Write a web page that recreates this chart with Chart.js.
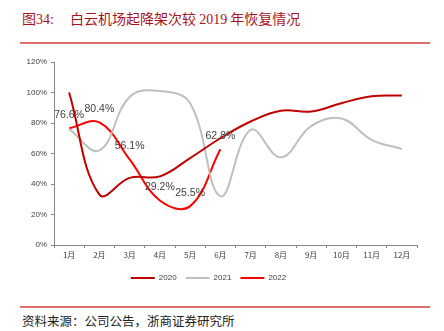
<!DOCTYPE html>
<html><head><meta charset="utf-8">
<script src="https://cdn.jsdelivr.net/npm/chart.js@4.4.0/dist/chart.umd.min.js"></script>
<style>
html,body{margin:0;padding:0;background:#fff;}
body{width:444px;height:331px;position:relative;overflow:hidden;font-family:"Noto Sans CJK SC","Liberation Sans",sans-serif;}
#title{position:absolute;left:22px;top:8px;font-size:14px;color:#A8141E;white-space:nowrap;line-height:20px;}
#title .n{font-family:"Liberation Serif","Noto Sans CJK SC",serif;}
#title .t{position:absolute;left:48px;top:0;}
#tline{position:absolute;left:20px;top:42px;width:410px;height:2px;background:#E07070;}
#bline{position:absolute;left:20px;top:306px;width:410px;height:1.5px;background:#E07070;}
#src{position:absolute;left:22px;top:313px;font-size:12.5px;color:#222;white-space:nowrap;line-height:16px;}
#wrap{position:absolute;left:0;top:50px;width:444px;height:250px;}
</style></head>
<body>
<div id="title">图<span class="n">34:</span><span class="t">白云机场起降架次较 <span class="n">2019</span> 年恢复情况</span></div>
<div id="tline"></div>
<div id="wrap"><canvas id="c" width="444" height="250"></canvas></div>
<div id="bline"></div>
<div id="src">资料来源：公司公告，浙商证券研究所</div>
<script>
const months = ["1月","2月","3月","4月","5月","6月","7月","8月","9月","10月","11月","12月"];
const seriesNames = ["2020","2021","2022"];
const v2020 = [100, 33, 44, 45, 57, 70, 81, 88, 87.5, 93, 97.5, 98];
const v2021 = [76, 62, 97, 101, 93, 32, 75.5, 57.5, 78, 83, 69, 63];
const v2022 = [76.6, 80.4, 56.1, 29.2, 25.5, 62.8];
const colors = ["#C00000", "#BFBFBF", "#FF0000"];

const labelPlugin = {
  id: 'valLabels',
  afterDatasetsDraw(chart) {
    const ctx = chart.ctx;
    const meta = chart.getDatasetMeta(2);
    ctx.save();
    ctx.font = '10.5px "Liberation Sans", Arial, sans-serif';
    ctx.fillStyle = '#404040';
    ctx.textAlign = 'center';
    ctx.textBaseline = 'middle';
    meta.data.forEach((pt, i) => {
      ctx.fillText(v2022[i].toFixed(1) + '%', pt.x, pt.y - 13);
    });
    ctx.restore();
  }
};

new Chart(document.getElementById('c'), {
  type: 'line',
  data: {
    labels: months,
    datasets: [
      {label: seriesNames[0], data: v2020, borderColor: colors[0], backgroundColor: colors[0], borderWidth: 2, tension: 0.4, pointRadius: 0, fill: false},
      {label: seriesNames[1], data: v2021, borderColor: colors[1], backgroundColor: colors[1], borderWidth: 2, tension: 0.4, pointRadius: 0, fill: false},
      {label: seriesNames[2], data: v2022, borderColor: colors[2], backgroundColor: colors[2], borderWidth: 2, tension: 0.4, pointRadius: 0, fill: false}
    ]
  },
  options: {
    responsive: false,
    animation: false,
    layout: {padding: {top: 12, left: 0, right: 27, bottom: 8}},
    scales: {
      x: {
        offset: true,
        grid: {offset: true, drawOnChartArea: false, drawTicks: true, tickLength: 3, color: '#888'},
        border: {color: '#888', width: 1},
        ticks: {color: '#404040', font: {size: 8, family: '"Noto Sans CJK SC", sans-serif'}, padding: 2, maxRotation: 0, autoSkip: false},
        afterFit(s) { s.height = 20; }
      },
      y: {
        min: 0, max: 120,
        grid: {drawOnChartArea: false, drawTicks: true, tickLength: 3, color: '#888'},
        border: {color: '#888', width: 1},
        ticks: {stepSize: 20, color: '#404040', font: {size: 8, family: '"Liberation Sans", Arial, sans-serif'}, padding: 4, callback: v => v + '%'},
        afterFit(s) { s.width = 54; }
      }
    },
    plugins: {
      legend: {
        position: 'bottom',
        labels: {
          boxWidth: 24, boxHeight: 2, padding: 9, color: '#404040',
          font: {size: 8, family: '"Liberation Sans", Arial, sans-serif'},
          generateLabels(chart) {
            return Chart.defaults.plugins.legend.labels.generateLabels(chart).map(l => Object.assign(l, {lineWidth: 0}));
          }
        }
      },
      tooltip: {enabled: false}
    }
  },
  plugins: [labelPlugin]
});
</script>
</body></html>
